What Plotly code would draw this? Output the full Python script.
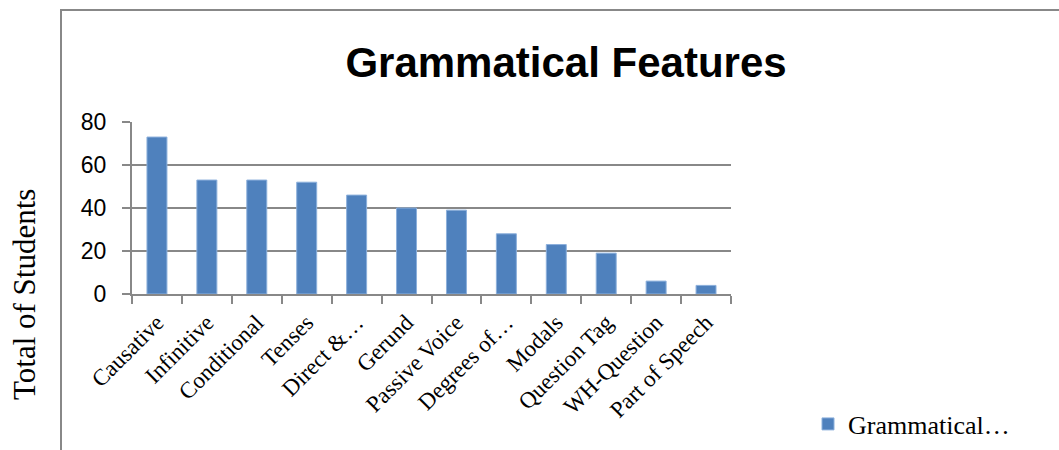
import plotly.graph_objects as go

categories = ["Causative", "Infinitive", "Conditional", "Tenses", "Direct &…", "Gerund",
              "Passive Voice", "Degrees of…", "Modals", "Question Tag", "WH-Question", "Part of Speech"]
values = [73, 53, 53, 52, 46, 40, 39, 28, 23, 19, 6, 4]
series_name = "Grammatical…"
y_ticks = [0, 20, 40, 60, 80]

W, H = 1059, 450
L, R, T, B = 132, 731, 122, 294
pw, ph = R - L, B - T

def px(x):
    return (x - L) / pw

def py(y):
    return (B - y) / ph

fig = go.Figure()
fig.add_trace(go.Bar(
    x=categories, y=values, name=series_name,
    marker=dict(color="#4F81BD", line=dict(color="#8CB0DC", width=1)),
    width=0.4,
))

fig.update_layout(
    width=W, height=H,
    margin=dict(l=L, r=W - R, t=T, b=H - B, pad=0, autoexpand=False),
    paper_bgcolor="white", plot_bgcolor="white",
    showlegend=True,
    legend=dict(x=px(808), y=py(424), xanchor="left", yanchor="middle",
                font=dict(family="Liberation Serif", size=26, color="black"),
                bgcolor="rgba(0,0,0,0)"),
    title=dict(text="<b>Grammatical Features</b>", x=px(566), y=1 - 62 / H,
               xref="paper", yref="container", xanchor="center", yanchor="middle",
               font=dict(family="Liberation Sans", size=42, color="black")),
)

fig.update_xaxes(
    type="category", showline=True, linecolor="#888888", linewidth=2,
    ticks="outside", ticklen=8, tickcolor="#888888", tickwidth=2,
    tickson="boundaries", tickangle=-45, ticklabelstandoff=4, automargin=False,
    tickfont=dict(family="Liberation Serif", size=23, color="black"),
    showgrid=False,
)
fig.update_yaxes(
    range=[0, 80], tickvals=y_ticks, showline=True, linecolor="#888888", linewidth=2,
    ticks="outside", ticklen=8, tickcolor="#888888", tickwidth=2,
    ticklabelstandoff=11, automargin=False,
    showgrid=True, gridcolor="#888888", gridwidth=2,
    tickfont=dict(family="Liberation Sans", size=23, color="black"),
    zeroline=False,
)

fig.add_annotation(
    text="Total of Students", xref="paper", yref="paper", x=px(24), y=py(295),
    textangle=-90, showarrow=False, xanchor="center", yanchor="middle",
    font=dict(family="Liberation Serif", size=31, color="black"),
)

fig.add_shape(type="rect", xref="paper", yref="paper",
              x0=px(61), x1=px(1070), y0=py(10), y1=py(470),
              line=dict(color="#888888", width=2), fillcolor="rgba(0,0,0,0)", layer="below")

fig.write_html("out.html")
